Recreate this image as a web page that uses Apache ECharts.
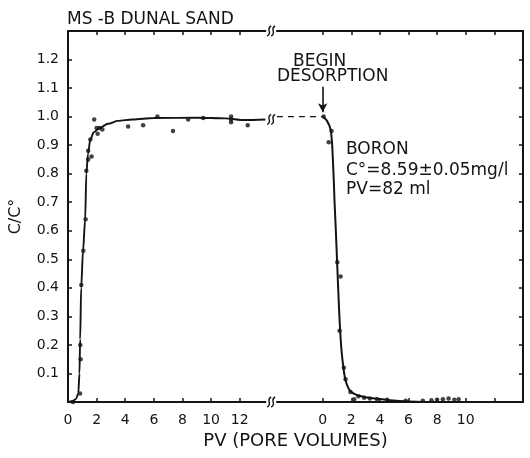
<!DOCTYPE html>
<html><head><meta charset="utf-8">
<script src="https://cdn.jsdelivr.net/npm/echarts@6/dist/echarts.min.js"></script>
<style>html,body{margin:0;padding:0;background:#fff}#c{width:530px;height:458px}</style>
</head><body><div id="c"></div>
<script>
const TITLE = 'MS -B DUNAL SAND';
const X_NAME = 'PV (PORE VOLUMES)';
const Y_NAME = 'C/C°';
const NOTE_BEGIN = 'BEGIN';
const NOTE_DES = 'DESORPTION';
const NOTE_LINES = ['BORON', 'C°=8.59±0.05mg/l', 'PV=82 ml'];
const DES_OFFSET = 17.8;   // axis position of desorption PV = 0
const X_MAX = 31.8;
const BREAK_X = 14.2;
const LEFT_TICKS = [0, 2, 4, 6, 8, 10, 12];
const RIGHT_TICKS = [0, 2, 4, 6, 8, 10, 12];
const RIGHT_LABELS = [0, 2, 4, 6, 8, 10];
const Y_MAX = 1.3;

// adsorption (breakthrough) curve: PV, C/C0
const adsCurvePV = [0, 0.3, 0.55, 0.72, 0.8, 0.85, 0.92, 1.05, 1.2, 1.28, 1.4, 1.56, 1.8, 2.2, 2.8, 3.5, 4.5, 6, 9, 11, 12.3, 13.8];
const adsCurveC  = [0, 0.003, 0.01, 0.03, 0.1, 0.22, 0.4, 0.53, 0.64, 0.8, 0.87, 0.92, 0.945, 0.96, 0.975, 0.985, 0.99, 0.995, 0.996, 0.994, 0.988, 0.99];
// adsorption measured points
const adsPtPV = [0.35, 0.84, 0.88, 0.86, 0.93, 1.07, 1.23, 1.28, 1.41, 1.65, 1.41, 1.56, 1.83, 2.0, 2.2, 2.07, 2.4, 4.2, 5.25, 6.25, 7.34, 8.4, 9.45, 11.4, 11.4, 11.4, 12.56];
const adsPtC  = [0.0, 0.03, 0.15, 0.2, 0.41, 0.53, 0.64, 0.81, 0.85, 0.86, 0.88, 0.92, 0.99, 0.96, 0.96, 0.94, 0.955, 0.965, 0.97, 1.0, 0.95, 0.99, 0.995, 1.0, 0.99, 0.98, 0.97];
// dashed connection across the break (adsorption end -> desorption start)
const gapPV = [14.6, DES_OFFSET];
const gapC = [1.0, 1.0];
// desorption curve: PV since start of desorption, C/C0
const desCurvePV = [0, 0.3, 0.55, 0.65, 0.72, 0.78, 0.83, 0.92, 1.0, 1.15, 1.3, 1.45, 1.6, 1.9, 2.4, 3.0, 3.8, 4.7, 6, 8, 10];
const desCurveC  = [1.0, 0.985, 0.955, 0.91, 0.84, 0.77, 0.70, 0.60, 0.5, 0.32, 0.19, 0.12, 0.075, 0.04, 0.024, 0.017, 0.011, 0.006, 0.002, 0.0, 0.0];
// desorption measured points
const desPtPV = [0.07, 0.62, 0.42, 1.02, 1.25, 1.18, 1.48, 1.6, 1.94, 2.2, 2.5, 2.9, 3.3, 3.8, 4.5, 5.8, 7.0, 7.6, 8.0, 8.4, 8.8, 9.2, 9.5];
const desPtC  = [1.0, 0.95, 0.91, 0.49, 0.44, 0.25, 0.12, 0.08, 0.035, 0.01, 0.02, 0.015, 0.012, 0.01, 0.008, 0.004, 0.004, 0.006, 0.008, 0.01, 0.012, 0.008, 0.01];

const INK = '#141414';
const FONT = 'DejaVu Sans';
const zip = (a, b, off) => a.map((v, i) => [v + (off || 0), b[i]]);
const tickVals = LEFT_TICKS.concat(RIGHT_TICKS.map(v => v + DES_OFFSET));
const labelVals = LEFT_TICKS.concat(RIGHT_LABELS.map(v => v + DES_OFFSET));
const fmtX = v => v < 15 ? String(Math.round(v)) : String(Math.round(v - DES_OFFSET));

const chart = echarts.init(document.getElementById('c'), null, {renderer: 'canvas'});
const axisLine = {show: true, onZero: false, lineStyle: {color: INK, width: 2}};
const option = {
  backgroundColor: '#fff',
  animation: false,
  title: {text: TITLE, left: 62, top: 6, textStyle: {fontFamily: FONT, fontSize: 17, fontWeight: 'normal', color: INK}},
  grid: {left: 67, right: 7, top: 31, bottom: 56},
  xAxis: [{
    type: 'value', min: 0, max: X_MAX, position: 'bottom',
    name: X_NAME, nameLocation: 'middle', nameGap: 28,
    nameTextStyle: {fontFamily: FONT, fontSize: 18, color: INK},
    axisLine: axisLine,
    axisTick: {show: true, inside: true, length: 4, customValues: tickVals, lineStyle: {color: INK, width: 1.5}},
    axisLabel: {customValues: labelVals, formatter: fmtX, margin: 11, fontFamily: FONT, fontSize: 14, color: INK},
    splitLine: {show: false}
  }, {
    type: 'value', min: 0, max: X_MAX, position: 'top',
    axisLine: axisLine,
    axisTick: {show: true, inside: true, length: 4, customValues: tickVals, lineStyle: {color: INK, width: 1.5}},
    axisLabel: {show: false},
    splitLine: {show: false}
  }],
  yAxis: [{
    type: 'value', min: 0, max: Y_MAX, interval: 0.1, position: 'left',
    name: Y_NAME, nameLocation: 'middle', nameGap: 44, nameRotate: 90,
    nameTextStyle: {fontFamily: FONT, fontSize: 16, color: INK},
    axisLine: axisLine,
    axisTick: {show: true, inside: true, length: 4, lineStyle: {color: INK, width: 1.5}},
    axisLabel: {margin: 9, fontFamily: FONT, fontSize: 14, color: INK,
      formatter: v => (v < 0.05 || v > 1.25) ? '' : v.toFixed(1)},
    splitLine: {show: false}
  }, {
    type: 'value', min: 0, max: Y_MAX, interval: 0.1, position: 'right',
    axisLine: axisLine,
    axisTick: {show: true, inside: true, length: 4, lineStyle: {color: INK, width: 1.5}},
    axisLabel: {show: false},
    splitLine: {show: false}
  }],
  series: [
    {type: 'line', data: zip(adsCurvePV, adsCurveC), showSymbol: false, smooth: 0.3, smoothMonotone: 'x',
     lineStyle: {color: INK, width: 1.9}, z: 3},
    {type: 'line', data: zip(gapPV, gapC), showSymbol: false,
     lineStyle: {color: INK, width: 1.4, type: [6, 5]}, z: 3},
    {type: 'line', data: zip(desCurvePV, desCurveC, DES_OFFSET), showSymbol: false, smooth: 0.2,
     lineStyle: {color: INK, width: 2}, z: 3,
     markLine: {silent: true, symbol: ['none', 'arrow'], symbolSize: [7, 9],
       lineStyle: {color: INK, width: 1.6, type: 'solid'}, label: {show: false},
       data: [[{coord: [DES_OFFSET, 1.105]}, {coord: [DES_OFFSET, 1.015]}]]}},
    {type: 'scatter', data: zip(adsPtPV, adsPtC), symbol: 'circle', symbolSize: 4.5, itemStyle: {color: INK}, z: 4},
    {type: 'scatter', data: zip(desPtPV, desPtC, DES_OFFSET), symbol: 'circle', symbolSize: 4.5, itemStyle: {color: INK}, z: 4}
  ]
};
chart.setOption(option);

function squiggle(cx, cy) {
  const els = [{type: 'rect', shape: {x: cx - 5, y: cy - 3, width: 10, height: 6}, style: {fill: '#fff'}, z: 50}];
  [-2, 2].forEach(d => {
    els.push({type: 'bezierCurve', z: 51,
      shape: {x1: cx + d - 2, y1: cy + 5, cpx1: cx + d + 4, cpy1: cy + 2, cpx2: cx + d - 4, cpy2: cy - 2, x2: cx + d + 2, y2: cy - 5},
      style: {stroke: INK, lineWidth: 1.4, fill: null}});
  });
  return els;
}
const bx = chart.convertToPixel({xAxisIndex: 0}, BREAK_X);
const yTop = chart.convertToPixel({yAxisIndex: 0}, Y_MAX);
const yBot = chart.convertToPixel({yAxisIndex: 0}, 0);
const yMid = chart.convertToPixel({yAxisIndex: 0}, 0.99);
const ax = chart.convertToPixel({xAxisIndex: 0}, DES_OFFSET);
const txt = (x, y, s, align) => ({type: 'text', x: x, y: y, z: 60,
  style: {text: s, fontFamily: FONT, fontSize: 17, fill: INK, align: align || 'left', verticalAlign: 'middle'}});
chart.setOption({graphic: {elements: [].concat(
  squiggle(bx, yTop), squiggle(bx, yBot), squiggle(bx, yMid),
  [txt(ax - 3, 61.5, NOTE_BEGIN, 'center'), txt(ax + 10, 76.5, NOTE_DES, 'center'),
   txt(346, 150, NOTE_LINES[0]), txt(346, 171, NOTE_LINES[1]), txt(346, 190, NOTE_LINES[2])]
)}});
</script></body></html>
